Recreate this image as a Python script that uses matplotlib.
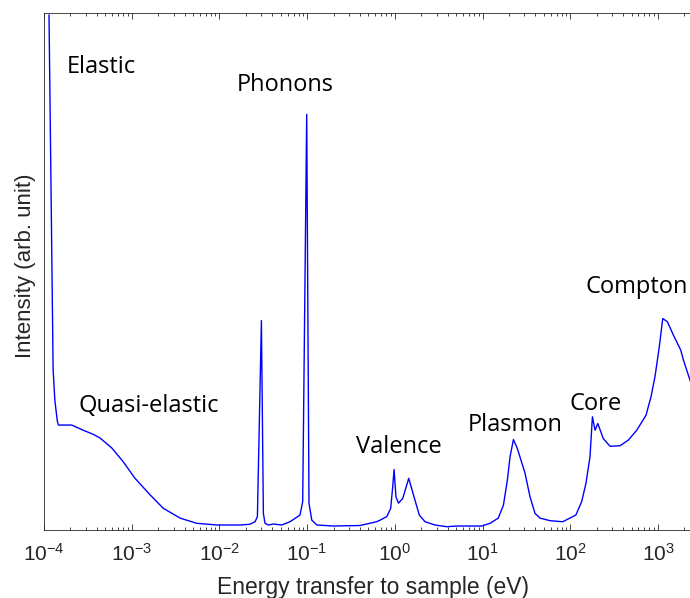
import matplotlib
matplotlib.use("Agg")
import matplotlib.pyplot as plt
from matplotlib.ticker import FixedLocator, NullFormatter

plt.rcParams["font.family"] = ["Liberation Sans", "DejaVu Sans"]
plt.rcParams["mathtext.fontset"] = "custom"
plt.rcParams["mathtext.rm"] = "Liberation Sans"
plt.rcParams["mathtext.it"] = "Liberation Sans:italic"

# spectrum (energy in eV, intensity in arb. units)
energy = [
    1.14e-4, 1.27e-4, 1.33e-4, 1.42e-4, 1.46e-4, 2.07e-4, 2.8e-4, 3.65e-4,
    4.35e-4, 5.9e-4, 8.0e-4, 1.09e-3, 1.62e-3, 2.29e-3, 3.56e-3, 5.5e-3,
    9.3e-3, 0.0172, 0.022,
    0.0255, 0.0271, 0.0301, 0.0317, 0.0331, 0.0361, 0.0412, 0.0513, 0.0638,
    0.083, 0.089, 0.0989, 0.105, 0.113, 0.129, 0.199, 0.40, 0.62,
    0.678, 0.809, 0.897, 0.946, 0.98, 1.03, 1.10, 1.23, 1.44, 1.63, 1.90,
    2.21, 2.87, 3.91, 5.08, 9.8,
    12.2, 15.1, 17.3, 19.2, 20.6, 22.5, 24.9, 30.5, 34.8, 39.7, 45.3, 58.9,
    82.1,
    116, 135, 151, 168, 179, 192, 206, 238, 284, 370, 460, 573, 731, 834,
    926, 1037, 1134, 1280, 1500, 1820, 1950, 2320, 2700,
]
intensity = [
    0.996, 0.31, 0.25, 0.21, 0.203, 0.203, 0.193, 0.185,
    0.178, 0.159, 0.132, 0.100, 0.068, 0.042, 0.023, 0.013,
    0.0097, 0.0097, 0.011,
    0.016, 0.026, 0.405, 0.032, 0.013, 0.0097, 0.0116, 0.0097, 0.016,
    0.029, 0.055, 0.804, 0.052, 0.019, 0.0097, 0.0077, 0.0087, 0.016,
    0.019, 0.026, 0.042, 0.084, 0.117, 0.064, 0.052, 0.061, 0.100, 0.068, 0.029,
    0.016, 0.0097, 0.0064, 0.0077, 0.0077,
    0.013, 0.023, 0.048, 0.097, 0.142, 0.175, 0.158, 0.110, 0.064, 0.032, 0.023, 0.018,
    0.016,
    0.029, 0.055, 0.090, 0.142, 0.219, 0.193, 0.206, 0.177, 0.162, 0.163, 0.174, 0.193, 0.222, 0.258,
    0.297, 0.355, 0.409, 0.403, 0.377, 0.348, 0.329, 0.290, 0.25,
]

# tick decades shown on the energy axis
decades = [-4, -3, -2, -1, 0, 1, 2, 3]

# peak labels: (text, energy, intensity at baseline)
label_text = ["Elastic", "Phonons", "Quasi-elastic", "Valence", "Plasmon", "Core", "Compton"]
label_x = [4.53e-4, 0.056, 1.556e-3, 1.108, 23.3, 193, 573]
label_y = [0.884, 0.849, 0.229, 0.148, 0.191, 0.233, 0.458]

fig = plt.figure(figsize=(6.9, 5.98), dpi=100)
# the axes run past the right edge of the picture, as in the cropped original
ax = fig.add_axes([0.0638, 0.1137, 0.9533, 0.8645])

ax.plot(energy, intensity, color="#0000ff", lw=1.0)

ax.set_xscale("log")
ax.set_xlim(1e-4, 10 ** 3.5)
ax.set_ylim(0, 1)

major = [10.0 ** d for d in decades]
minor = [m * 10.0 ** d for d in decades for m in range(2, 10)]
ax.xaxis.set_major_locator(FixedLocator(major))
ax.xaxis.set_minor_locator(FixedLocator(minor))
ax.set_xticklabels([f"$10^{{{d}}}$" for d in decades])
ax.xaxis.set_minor_formatter(NullFormatter())
ax.set_yticks([])

edge = "#262626"
for s in ax.spines.values():
    s.set_color(edge)
    s.set_linewidth(0.6)
ax.tick_params(axis="x", which="both", direction="in", top=True, bottom=True,
               color=edge, width=0.6, labelsize=15, pad=9, labelcolor="#262626")
ax.tick_params(axis="x", which="major", length=4.5)
ax.tick_params(axis="x", which="minor", length=2.3)

ax.set_xlabel("Energy transfer to sample (eV)", fontsize=16.5, labelpad=8, color="#262626")
ax.set_ylabel("Intensity (arb. unit)", fontsize=16, color="#262626")
ax.yaxis.set_label_coords(-0.012, 0.511)

for t, x, y in zip(label_text, label_x, label_y):
    ax.text(x, y, t, ha="center", va="baseline", fontsize=17,
            family=["Open Sans", "DejaVu Sans"], color="black")

fig.savefig("out.png", dpi=100, facecolor="white")
